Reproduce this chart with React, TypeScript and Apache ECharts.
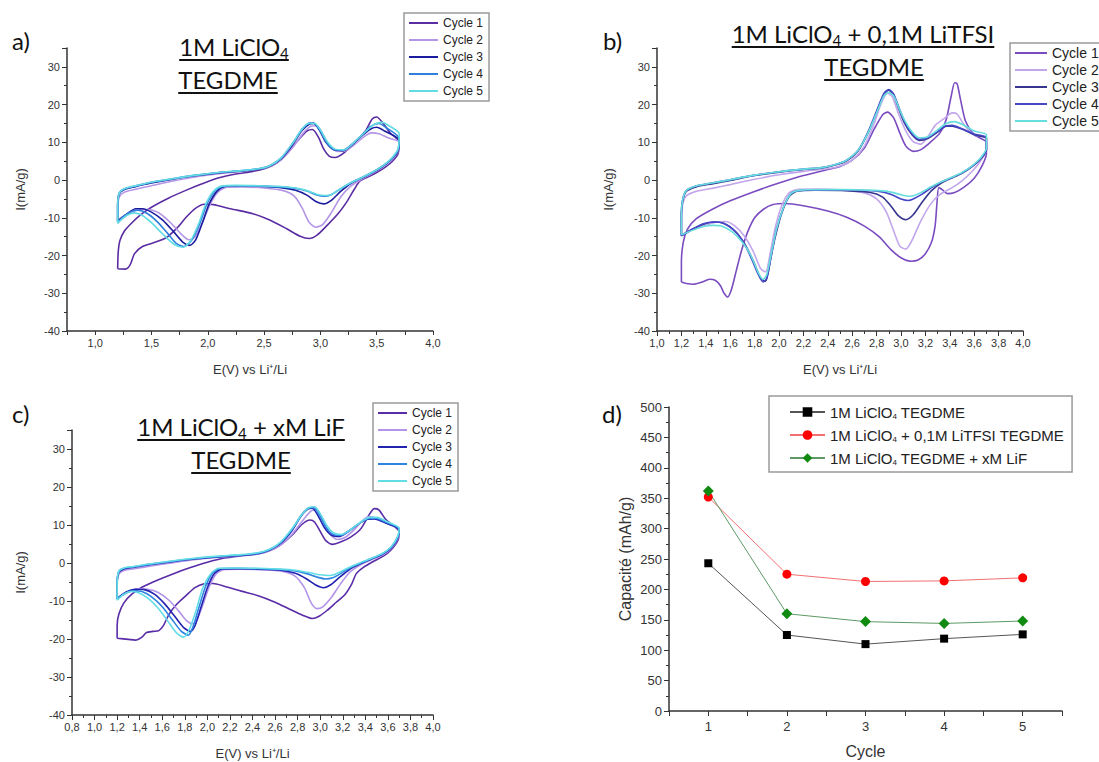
import React, { useEffect, useRef } from 'react';
import * as echarts from 'echarts';

// ---------- Panel a) 1M LiClO4 TEGDME : [E (V), I (mA/g)] loops ----------
const A_C1 = [
  [1.2,-23.5],[1.205,-19],[1.22,-16],[1.26,-13.5],[1.32,-11.5],[1.4,-9.3],[1.5,-7.2],[1.65,-4.8],[1.8,-2.8],[1.95,-1],[2.1,0.6],[2.25,1.6],[2.4,2.3],[2.5,3],[2.6,4.3],[2.7,7],[2.8,10.5],[2.88,13],[2.93,13.4],[2.98,11.5],[3.03,8.2],[3.08,6.3],[3.13,6.0],[3.2,7],[3.3,9.8],[3.4,13],[3.46,16.2],[3.5,16.7],[3.55,15.3],[3.62,12.5],[3.7,10],
  [3.69,7],[3.64,5],[3.58,3.5],[3.5,2],[3.42,0.8],[3.35,-0.3],[3.3,-2.5],[3.24,-5.5],[3.16,-8.8],[3.06,-12],[2.97,-14.6],[2.9,-15.5],[2.82,-14.9],[2.7,-12.9],[2.55,-10.6],[2.4,-8.9],[2.2,-7.6],[2.05,-6.5],[1.97,-6.4],[1.89,-7.5],[1.81,-9.8],[1.73,-12.6],[1.63,-15.3],[1.52,-16.6],[1.42,-17.6],[1.35,-19.5],[1.31,-22.5],[1.27,-23.6],[1.2,-23.5]
];
const A_C2 = [
  [1.2,-11],[1.2,-7.5],[1.215,-4.5],[1.26,-3.2],[1.35,-2.5],[1.5,-1.5],[1.7,-0.2],[1.9,0.9],[2.1,1.7],[2.3,2.3],[2.45,2.9],[2.55,3.6],[2.65,5.3],[2.75,8.5],[2.85,12.5],[2.92,14.3],[2.97,14.4],[3.02,12.3],[3.08,9.2],[3.15,7.6],[3.22,7.7],[3.3,9.3],[3.38,11.3],[3.45,12.5],[3.52,12.3],[3.6,11.2],[3.7,10],
  [3.69,7.5],[3.63,5.3],[3.56,3.6],[3.47,1.9],[3.37,0.3],[3.27,-1.6],[3.18,-4.5],[3.1,-8.5],[3.02,-11.8],[2.96,-12.5],[2.9,-11.2],[2.84,-7.5],[2.77,-4.3],[2.67,-2.8],[2.5,-2.1],[2.3,-1.8],[2.17,-1.9],[2.09,-3.2],[2.02,-6.5],[1.95,-11.5],[1.88,-15.3],[1.83,-15.8],[1.76,-14.2],[1.67,-11.3],[1.57,-8.8],[1.47,-7.8],[1.39,-7.8],[1.3,-9],[1.2,-11]
];
const A_C3 = [
  [1.2,-11],[1.2,-6.5],[1.215,-3.6],[1.26,-2.5],[1.35,-1.8],[1.5,-0.8],[1.7,0.3],[1.9,1.2],[2.1,1.9],[2.3,2.4],[2.45,2.9],[2.55,3.7],[2.65,5.6],[2.75,9.3],[2.84,13.3],[2.9,14.8],[2.94,15],[2.99,13.3],[3.05,10],[3.12,8],[3.2,7.8],[3.28,9.3],[3.37,11.8],[3.45,13.6],[3.5,14],[3.57,13],[3.7,10.5],
  [3.69,7.8],[3.63,5.5],[3.56,3.8],[3.47,2.1],[3.37,0.6],[3.27,-0.9],[3.18,-3],[3.1,-5.3],[3.03,-6.3],[2.96,-5.7],[2.88,-4],[2.78,-2.7],[2.65,-2],[2.45,-1.6],[2.25,-1.5],[2.15,-1.7],[2.08,-3],[2.01,-6.5],[1.95,-11.5],[1.89,-16],[1.84,-17.3],[1.78,-16.5],[1.7,-13.8],[1.6,-10.6],[1.5,-8.5],[1.42,-7.6],[1.36,-7.6],[1.29,-8.8],[1.2,-10.8]
];
const A_C4 = [
  [1.2,-11.2],[1.2,-6.5],[1.215,-3.3],[1.26,-2.3],[1.35,-1.6],[1.5,-0.6],[1.7,0.4],[1.9,1.3],[2.1,2],[2.3,2.5],[2.45,3],[2.55,3.8],[2.65,5.8],[2.75,9.6],[2.84,13.6],[2.9,15.1],[2.94,15.2],[2.99,13.5],[3.05,10.2],[3.12,8.1],[3.2,7.9],[3.28,9.5],[3.37,12],[3.45,14.3],[3.52,15],[3.58,14],[3.7,11],
  [3.69,8],[3.63,5.6],[3.56,3.9],[3.47,2.2],[3.37,0.7],[3.27,-0.7],[3.18,-2.3],[3.1,-3.8],[3.04,-4.3],[2.96,-3.9],[2.88,-2.9],[2.78,-2.2],[2.65,-1.8],[2.45,-1.6],[2.25,-1.5],[2.13,-1.7],[2.06,-3],[1.99,-6.5],[1.93,-11.5],[1.86,-15.8],[1.79,-17.6],[1.72,-16.8],[1.64,-14],[1.55,-11],[1.46,-8.8],[1.38,-8],[1.32,-8.3],[1.26,-9.5],[1.2,-11.2]
];
const A_C5 = [
  [1.2,-11.5],[1.2,-7],[1.215,-3.4],[1.26,-2.3],[1.35,-1.6],[1.5,-0.6],[1.7,0.4],[1.9,1.3],[2.1,2],[2.3,2.5],[2.45,3],[2.55,3.8],[2.65,5.8],[2.75,9.6],[2.84,13.6],[2.9,15],[2.95,15],[3.0,13.3],[3.06,10.2],[3.13,8.2],[3.21,8],[3.3,10],[3.4,12.8],[3.48,14.8],[3.55,15.3],[3.62,14.2],[3.7,12.3],
  [3.69,8.3],[3.63,5.7],[3.56,3.9],[3.47,2.2],[3.37,0.7],[3.27,-0.7],[3.18,-2.3],[3.1,-3.8],[3.05,-4.1],[2.97,-3.8],[2.88,-2.8],[2.78,-2.1],[2.65,-1.7],[2.45,-1.5],[2.25,-1.4],[2.12,-1.6],[2.05,-3],[1.98,-6.5],[1.92,-11.5],[1.85,-16],[1.78,-17.8],[1.7,-17],[1.6,-14.3],[1.5,-11.3],[1.42,-9.4],[1.35,-8.7],[1.29,-9.2],[1.24,-10.3],[1.2,-11.5]
];

// ---------- Panel b) 1M LiClO4 + 0,1M LiTFSI TEGDME ----------
const B_C1 = [
  [1.2,-27],[1.2,-22],[1.215,-16.5],[1.25,-13],[1.32,-10.3],[1.45,-7.8],[1.6,-5.5],[1.8,-3],[2.0,-0.8],[2.2,1.2],[2.4,2.8],[2.5,3.6],[2.6,5.3],[2.7,8.5],[2.78,13.5],[2.85,17.3],[2.89,18],[2.94,16.5],[2.99,12.5],[3.04,9],[3.1,7.6],[3.16,8],[3.24,10],[3.32,12.5],[3.37,16],[3.41,22],[3.44,25.8],[3.46,25.5],[3.49,21],[3.53,15.5],[3.6,12],[3.7,10],
  [3.7,7],[3.66,3.5],[3.6,0.5],[3.52,-1.8],[3.44,-3.3],[3.38,-3.6],[3.34,-2.6],[3.31,-2],[3.295,-6],[3.28,-12],[3.25,-16.5],[3.2,-19.5],[3.14,-21.2],[3.08,-21.5],[3.0,-20.6],[2.92,-18.5],[2.82,-15],[2.7,-12.2],[2.55,-9.8],[2.4,-8.2],[2.2,-6.8],[2.05,-6.2],[1.95,-6.5],[1.87,-7.8],[1.8,-10],[1.74,-14],[1.69,-19],[1.65,-24],[1.61,-29],[1.58,-31],[1.55,-30],[1.52,-28],[1.48,-26.6],[1.43,-26.3],[1.37,-27],[1.3,-27.6],[1.24,-27.4],[1.2,-27]
];
const B_C2 = [
  [1.2,-14.5],[1.2,-10],[1.21,-6.5],[1.24,-4.2],[1.32,-3],[1.45,-2.2],[1.6,-1.2],[1.8,0.2],[2.0,1.4],[2.2,2.3],[2.4,3],[2.5,3.7],[2.6,5.3],[2.7,9],[2.78,15],[2.84,20.5],[2.89,23],[2.93,22],[2.98,17.5],[3.04,13],[3.1,10.2],[3.16,9.5],[3.22,11.5],[3.28,14.5],[3.35,16.2],[3.42,17.8],[3.46,17.5],[3.52,14.5],[3.6,12],[3.7,11],
  [3.7,8],[3.65,5],[3.58,2.2],[3.5,-0.2],[3.42,-2],[3.32,-3.8],[3.24,-6.5],[3.16,-11],[3.09,-16],[3.04,-18.3],[2.99,-17.5],[2.94,-13.5],[2.88,-8.5],[2.8,-5],[2.7,-3.4],[2.5,-2.6],[2.3,-2.4],[2.15,-2.5],[2.08,-3.5],[2.02,-7],[1.97,-12.5],[1.93,-19],[1.89,-24.3],[1.85,-23.5],[1.79,-19],[1.72,-15],[1.64,-12.2],[1.56,-11],[1.48,-11.2],[1.4,-12],[1.3,-13],[1.2,-14.5]
];
const B_C3 = [
  [1.2,-14.7],[1.2,-9],[1.21,-5.5],[1.24,-3],[1.32,-1.8],[1.45,-1],[1.6,-0.1],[1.8,1.2],[2.0,2.1],[2.2,2.8],[2.35,3.2],[2.45,3.9],[2.55,5],[2.65,7.8],[2.73,12.5],[2.8,18],[2.86,22.8],[2.9,23.8],[2.94,22.5],[2.98,19],[3.03,15],[3.09,12],[3.15,10.5],[3.22,11],[3.3,12.7],[3.37,14.3],[3.42,14.3],[3.5,13.5],[3.6,12],[3.7,11],
  [3.7,8],[3.65,5.5],[3.58,3.5],[3.5,1.8],[3.42,0.6],[3.34,-0.6],[3.25,-2.8],[3.17,-6],[3.1,-9.2],[3.04,-10.5],[2.98,-9.5],[2.92,-7],[2.85,-4.5],[2.75,-3.3],[2.55,-2.8],[2.3,-2.7],[2.15,-2.9],[2.08,-4.5],[2.02,-9],[1.97,-15],[1.93,-21],[1.89,-26.8],[1.85,-26],[1.79,-21.5],[1.72,-17],[1.64,-13.5],[1.55,-11.5],[1.47,-11.1],[1.4,-11.5],[1.3,-12.8],[1.2,-14.7]
];
const B_C4 = [
  [1.2,-14.8],[1.2,-9],[1.21,-5.3],[1.24,-2.8],[1.32,-1.6],[1.45,-0.8],[1.6,0.1],[1.8,1.3],[2.0,2.2],[2.2,2.9],[2.35,3.3],[2.45,4],[2.55,5.2],[2.65,8],[2.73,12.8],[2.8,18.3],[2.86,23],[2.9,24],[2.94,22.8],[2.98,19.5],[3.03,15.5],[3.09,12.3],[3.15,10.8],[3.22,11.2],[3.3,12.8],[3.37,14.4],[3.42,14.5],[3.5,13.6],[3.6,12.2],[3.7,11.3],
  [3.7,8.2],[3.65,5.6],[3.58,3.6],[3.5,1.9],[3.42,0.7],[3.34,-0.4],[3.25,-2],[3.17,-3.8],[3.1,-5],[3.06,-5.4],[3.0,-5],[2.92,-3.8],[2.82,-3],[2.65,-2.7],[2.4,-2.6],[2.2,-2.7],[2.1,-3.5],[2.04,-7],[1.98,-13],[1.94,-19.5],[1.9,-26],[1.87,-27],[1.83,-25],[1.77,-20.5],[1.7,-16],[1.62,-13],[1.54,-11.4],[1.46,-11.1],[1.38,-11.6],[1.3,-12.9],[1.2,-14.8]
];
const B_C5 = [
  [1.2,-14.5],[1.2,-9],[1.21,-5.3],[1.24,-2.8],[1.32,-1.6],[1.45,-0.8],[1.6,0.1],[1.8,1.3],[2.0,2.2],[2.2,2.9],[2.35,3.3],[2.45,4],[2.55,5.2],[2.65,8],[2.73,12.5],[2.8,17.8],[2.86,22.3],[2.9,23.2],[2.94,22.3],[2.98,19.3],[3.03,15.8],[3.09,12.8],[3.15,11.2],[3.22,11.5],[3.3,13.3],[3.37,15],[3.44,15.5],[3.5,14.8],[3.6,13],[3.7,12],
  [3.7,8.5],[3.65,5.8],[3.58,3.7],[3.5,2],[3.42,0.8],[3.34,-0.3],[3.25,-1.7],[3.17,-3.2],[3.11,-4.1],[3.07,-4.3],[3.0,-3.9],[2.92,-3.2],[2.82,-2.8],[2.65,-2.6],[2.4,-2.5],[2.2,-2.6],[2.1,-3.5],[2.04,-7],[1.98,-13],[1.94,-19],[1.9,-25],[1.87,-26.3],[1.83,-24.5],[1.77,-20],[1.7,-16.5],[1.62,-13.8],[1.54,-12.3],[1.46,-12],[1.38,-12.3],[1.3,-13.2],[1.2,-14.5]
];

// ---------- Panel c) 1M LiClO4 + xM LiF TEGDME ----------
const C_C1 = [
  [1.2,-19.8],[1.2,-16.5],[1.215,-13.5],[1.26,-10.5],[1.33,-8.2],[1.42,-6.4],[1.55,-4.6],[1.7,-2.8],[1.85,-1.2],[2.0,0.2],[2.15,1.3],[2.3,1.9],[2.45,2.4],[2.55,3.2],[2.65,4.8],[2.75,7.3],[2.84,10.2],[2.91,11.3],[2.95,10.8],[3.0,8.3],[3.05,5.9],[3.11,4.9],[3.18,5.5],[3.27,6.8],[3.36,9],[3.43,12.5],[3.48,14.3],[3.52,14],[3.58,11.5],[3.65,9.8],[3.7,8.2],
  [3.69,6],[3.63,3.5],[3.56,1.8],[3.47,0.4],[3.38,-1.2],[3.32,-2.8],[3.28,-5.5],[3.22,-8.3],[3.14,-10.4],[3.06,-12.5],[2.99,-14],[2.93,-14.6],[2.85,-13.8],[2.74,-12.3],[2.6,-10.3],[2.45,-8.6],[2.3,-7.4],[2.15,-6.1],[2.05,-5.4],[1.97,-5.5],[1.89,-6.5],[1.81,-8.6],[1.73,-10.8],[1.66,-13.5],[1.61,-16.5],[1.57,-17.8],[1.52,-18],[1.46,-18.3],[1.42,-19.5],[1.36,-20.3],[1.3,-20.1],[1.2,-19.8]
];
const C_C2 = [
  [1.2,-9.5],[1.2,-6],[1.215,-3],[1.26,-2],[1.35,-1.5],[1.5,-0.8],[1.7,0.1],[1.9,0.9],[2.1,1.5],[2.3,1.9],[2.45,2.4],[2.55,3.2],[2.65,4.8],[2.75,7.5],[2.84,11],[2.92,13.7],[2.97,14],[3.02,11.5],[3.08,8],[3.15,6.2],[3.22,6.7],[3.3,8.7],[3.37,11],[3.43,12.2],[3.5,11.8],[3.6,10.3],[3.7,8.8],
  [3.69,6.5],[3.63,3.8],[3.55,2],[3.45,0.8],[3.35,-0.6],[3.26,-2.5],[3.18,-5.5],[3.1,-9],[3.02,-11.6],[2.97,-12],[2.92,-10.5],[2.86,-6.5],[2.78,-3.5],[2.67,-2.2],[2.5,-1.8],[2.3,-1.6],[2.15,-1.7],[2.08,-2.8],[2.02,-6],[1.96,-11],[1.91,-14.8],[1.87,-16],[1.82,-15.3],[1.75,-12.8],[1.66,-9.8],[1.56,-7.7],[1.47,-6.9],[1.39,-6.8],[1.3,-7.6],[1.2,-9.5]
];
const C_C3 = [
  [1.2,-9.5],[1.2,-5.5],[1.215,-2.5],[1.26,-1.6],[1.35,-1.1],[1.5,-0.4],[1.7,0.4],[1.9,1.1],[2.1,1.6],[2.3,2],[2.45,2.5],[2.55,3.4],[2.65,5.2],[2.75,8.5],[2.83,12.3],[2.89,14.2],[2.93,14.4],[2.98,12.5],[3.04,9.2],[3.1,7.3],[3.17,7],[3.25,8.3],[3.34,10.3],[3.42,11.5],[3.48,11.6],[3.58,10.5],[3.7,8.8],
  [3.69,6.8],[3.63,4],[3.55,2.3],[3.45,1],[3.35,-0.3],[3.26,-1.7],[3.17,-3.8],[3.09,-5.8],[3.03,-6.5],[2.96,-5.8],[2.88,-4.2],[2.78,-2.7],[2.65,-1.9],[2.45,-1.6],[2.25,-1.5],[2.13,-1.6],[2.06,-2.8],[2.0,-6.5],[1.94,-12],[1.89,-16.5],[1.85,-18],[1.79,-17],[1.71,-14],[1.62,-10.7],[1.53,-8.2],[1.44,-7],[1.36,-6.9],[1.28,-7.6],[1.2,-9.3]
];
const C_C4 = [
  [1.2,-9.3],[1.2,-5.3],[1.215,-2.2],[1.26,-1.4],[1.35,-1],[1.5,-0.3],[1.7,0.5],[1.9,1.2],[2.1,1.7],[2.3,2.1],[2.45,2.6],[2.55,3.5],[2.65,5.4],[2.75,8.8],[2.83,12.5],[2.89,14.4],[2.94,14.6],[2.99,12.8],[3.05,9.5],[3.11,7.6],[3.18,7.3],[3.26,8.6],[3.35,10.5],[3.43,11.7],[3.49,11.8],[3.58,10.8],[3.7,9],
  [3.69,7],[3.63,4.2],[3.55,2.4],[3.45,1.1],[3.35,-0.1],[3.26,-1.3],[3.18,-2.8],[3.11,-3.9],[3.05,-4.2],[2.97,-3.7],[2.88,-2.8],[2.78,-2.1],[2.65,-1.7],[2.45,-1.5],[2.25,-1.4],[2.11,-1.5],[2.04,-2.8],[1.98,-6.5],[1.92,-12.2],[1.87,-17],[1.83,-19],[1.77,-18],[1.69,-15],[1.6,-11.5],[1.5,-8.8],[1.42,-7.5],[1.35,-7.3],[1.28,-7.9],[1.2,-9.3]
];
const C_C5 = [
  [1.2,-9.8],[1.2,-5.5],[1.215,-2.2],[1.26,-1.3],[1.35,-0.9],[1.5,-0.2],[1.7,0.6],[1.9,1.3],[2.1,1.8],[2.3,2.2],[2.45,2.7],[2.55,3.6],[2.65,5.5],[2.75,9],[2.84,12.8],[2.9,14.6],[2.95,14.8],[3.0,13],[3.06,9.8],[3.12,7.9],[3.19,7.5],[3.27,8.8],[3.36,10.8],[3.44,12],[3.5,12],[3.6,10.8],[3.7,9.2],
  [3.69,7.2],[3.63,4.3],[3.55,2.5],[3.45,1.2],[3.35,0],[3.26,-1.1],[3.18,-2.3],[3.12,-3.1],[3.08,-3.3],[3.0,-3.1],[2.9,-2.5],[2.78,-1.9],[2.65,-1.6],[2.45,-1.4],[2.25,-1.3],[2.1,-1.4],[2.03,-2.8],[1.96,-6.5],[1.9,-12.5],[1.84,-17.5],[1.79,-19.5],[1.73,-18.5],[1.65,-15.3],[1.56,-11.8],[1.47,-9.2],[1.39,-7.8],[1.32,-7.5],[1.26,-8.2],[1.2,-9.8]
];

const CYCLE_NAMES = ['Cycle 1', 'Cycle 2', 'Cycle 3', 'Cycle 4', 'Cycle 5'];
const COLORS_A = ['#5b2da3', '#b596e6', '#1c1c9e', '#2f80de', '#62dbe3'];
const COLORS_B = ['#7a4cc0', '#c2a6ec', '#36368f', '#4646c8', '#66dede'];
const COLORS_C = ['#5a2ca8', '#b394e8', '#2323b0', '#2e84e0', '#62dde6'];

// ---------- Panel d) capacity vs cycle ----------
const D_CYCLES = [1, 2, 3, 4, 5];
const D_LICLO4 = [243, 125, 110, 119, 126];
const D_LITFSI = [352, 225, 213, 214, 219];
const D_LIF = [362, 160, 147, 144, 148];
const D_LABELS = [
  '1M LiClO{sub|4} TEGDME',
  '1M LiClO{sub|4} + 0,1M LiTFSI TEGDME',
  '1M LiClO{sub|4} TEGDME + xM LiF',
];

const AXIS_FONT = 'Liberation Sans';
const TITLE_FONT = 'Lato';

function commaFmt(v: number) {
  return v.toFixed(1).replace('.', ',');
}

export default function App() {
  const ref = useRef<HTMLDivElement>(null);

  useEffect(() => {
    if (!ref.current) return;
    const chart = echarts.init(ref.current, null, { renderer: 'svg' });

    const cv = document.createElement('canvas').getContext('2d') as CanvasRenderingContext2D;
    const measure = (t: string, size: number) => {
      cv.font = `${size}px ${TITLE_FONT}`;
      return cv.measureText(t).width;
    };

    const graphics: any[] = [];
    const titleLine = (parts: { t: string; sub?: boolean }[], cx: number, y: number) => {
      const widths = parts.map((p) => measure(p.t, p.sub ? 15 : 24));
      const W = widths.reduce((a, b) => a + b, 0);
      let x = cx - W / 2;
      parts.forEach((p, i) => {
        graphics.push({
          type: 'text',
          x,
          y: p.sub ? y + 7 : y,
          silent: true,
          style: {
            text: p.t,
            fill: '#111',
            font: `${p.sub ? 15 : 24}px ${TITLE_FONT}`,
            textAlign: 'left',
            textVerticalAlign: 'middle',
          },
        });
        x += widths[i];
      });
      graphics.push({
        type: 'line',
        silent: true,
        shape: { x1: cx - W / 2, y1: y + 14, x2: cx + W / 2, y2: y + 14 },
        style: { stroke: '#111', lineWidth: 2 },
      });
    };
    titleLine([{ t: '1M LiClO' }, { t: '4', sub: true }], 234, 46);
    titleLine([{ t: 'TEGDME' }], 228, 79);
    titleLine([{ t: '1M LiClO' }, { t: '4', sub: true }, { t: ' + 0,1M LiTFSI' }], 863, 33);
    titleLine([{ t: 'TEGDME' }], 874, 66);
    titleLine([{ t: '1M LiClO' }, { t: '4', sub: true }, { t: ' + xM LiF' }], 241, 426);
    titleLine([{ t: 'TEGDME' }], 241, 459);

    [['a)', 12, 40], ['b)', 603, 40], ['c)', 12, 413], ['d)', 602, 413]].forEach(([t, x, y]) => {
      graphics.push({
        type: 'text',
        x,
        y,
        silent: true,
        style: { text: t, fill: '#111', font: `24px ${TITLE_FONT}`, textAlign: 'left', textVerticalAlign: 'middle' },
      });
    });

    const grids = [
      { left: 67, top: 48, width: 366, height: 283 },
      { left: 657, top: 48, width: 366, height: 283 },
      { left: 72, top: 430, width: 361, height: 285 },
      { left: 669, top: 407, width: 393, height: 304 },
    ];

    const axisBase = (fontSize: number) => ({
      axisLine: { onZero: false, lineStyle: { color: '#333', width: 1.5 } },
      axisTick: { length: 5, lineStyle: { color: '#333', width: 1 } },
      minorTick: { show: true, splitNumber: 2, length: 3, lineStyle: { color: '#333', width: 1 } },
      splitLine: { show: false },
      minorSplitLine: { show: false },
      axisLabel: { color: '#333', fontSize, fontFamily: AXIS_FONT },
      nameTextStyle: { color: '#333', fontSize: fontSize + 2, fontFamily: AXIS_FONT },
    });

    const cvX = (i: number, min: number, interval: number, everyHalf: boolean) => ({
      type: 'value',
      gridIndex: i,
      min,
      max: 4,
      interval,
      ...axisBase(11),
      minorTick: everyHalf
        ? { show: false }
        : { show: true, splitNumber: 2, length: 3, lineStyle: { color: '#333', width: 1 } },
      axisTick: { length: everyHalf ? 4 : 5, lineStyle: { color: '#333', width: 1 } },
      axisLabel: {
        color: '#333',
        fontSize: 11,
        fontFamily: AXIS_FONT,
        margin: 6,
        formatter: (v: number) => {
          if (everyHalf && Math.abs(v * 2 - Math.round(v * 2)) > 1e-6) return '';
          return commaFmt(v);
        },
      },
      name: 'E(V) vs Li\u207A/Li',
      nameLocation: 'middle',
      nameGap: 32,
      nameTextStyle: { color: '#333', fontSize: 13, fontFamily: AXIS_FONT },
    });

    const cvY = (i: number, gap: number) => ({
      type: 'value',
      gridIndex: i,
      min: -40,
      max: 35,
      interval: 10,
      ...axisBase(11),
      axisLabel: {
        color: '#333',
        fontSize: 11,
        fontFamily: AXIS_FONT,
        margin: 7,
        formatter: (v: number) => (Math.abs(v % 10) < 1e-6 ? String(v) : ''),
      },
      name: 'I(mA/g)',
      nameLocation: 'middle',
      nameGap: gap,
      nameTextStyle: { color: '#333', fontSize: 13, fontFamily: AXIS_FONT },
    });

    const xAxis: any[] = [
      cvX(0, 0.75, 0.25, true),
      cvX(1, 1.0, 0.2, false),
      cvX(2, 0.8, 0.2, false),
      {
        type: 'value',
        gridIndex: 3,
        min: 0.5,
        max: 5.5,
        interval: 0.5,
        ...axisBase(13),
        minorTick: { show: false },
        axisLabel: {
          color: '#333',
          fontSize: 13,
          fontFamily: AXIS_FONT,
          margin: 9,
          formatter: (v: number) => (Math.abs(v - Math.round(v)) < 1e-6 ? String(Math.round(v)) : ''),
        },
        name: 'Cycle',
        nameLocation: 'middle',
        nameGap: 32,
        nameTextStyle: { color: '#333', fontSize: 16, fontFamily: AXIS_FONT },
      },
    ];
    const yAxis: any[] = [
      cvY(0, 40),
      cvY(1, 42),
      cvY(2, 45),
      {
        type: 'value',
        gridIndex: 3,
        min: 0,
        max: 500,
        interval: 50,
        ...axisBase(13),
        axisLabel: { color: '#333', fontSize: 13, fontFamily: AXIS_FONT, margin: 7 },
        name: 'Capacité (mAh/g)',
        nameLocation: 'middle',
        nameGap: 36,
        nameTextStyle: { color: '#333', fontSize: 16, fontFamily: AXIS_FONT },
      },
    ];

    const series: any[] = [];
    const addCV = (prefix: string, idx: number, data: number[][][], colors: string[]) => {
      data.forEach((d, k) => {
        series.push({
          type: 'line',
          name: `${prefix}:${CYCLE_NAMES[k]}`,
          xAxisIndex: idx,
          yAxisIndex: idx,
          data: d,
          symbol: 'none',
          smooth: 0.25,
          lineStyle: { color: colors[k], width: 1.6 },
          itemStyle: { color: colors[k] },
          z: 2 + k,
        });
      });
    };
    addCV('a', 0, [A_C1, A_C2, A_C3, A_C4, A_C5], COLORS_A);
    addCV('b', 1, [B_C1, B_C2, B_C3, B_C4, B_C5], COLORS_B);
    addCV('c', 2, [C_C1, C_C2, C_C3, C_C4, C_C5], COLORS_C);

    const dSeries = [
      { name: 'd:0', vals: D_LICLO4, symbol: 'rect', size: 8, color: '#000', line: '#555' },
      { name: 'd:1', vals: D_LITFSI, symbol: 'circle', size: 9, color: '#f00', line: '#f27070' },
      { name: 'd:2', vals: D_LIF, symbol: 'diamond', size: 11, color: '#118a11', line: '#5e9a66' },
    ];
    dSeries.forEach((s) => {
      series.push({
        type: 'line',
        name: s.name,
        xAxisIndex: 3,
        yAxisIndex: 3,
        data: D_CYCLES.map((c, i) => [c, s.vals[i]]),
        symbol: s.symbol,
        symbolSize: s.size,
        showSymbol: true,
        lineStyle: { color: s.line, width: 1 },
        itemStyle: { color: s.color },
        z: 3,
      });
    });

    const cvLegend = (prefix: string, left: number, top: number, fontSize: number, itemWidth: number, padR: number) => ({
      orient: 'vertical',
      left,
      top,
      data: CYCLE_NAMES.map((n) => ({ name: `${prefix}:${n}`, icon: 'rect' })),
      formatter: (n: string) => n.slice(2),
      itemWidth,
      itemHeight: 2,
      itemGap: 3,
      padding: [3, padR, 3, 5],
      borderColor: '#9a9a9a',
      borderWidth: 1.5,
      selectedMode: false,
      textStyle: { color: '#222', fontSize, fontFamily: AXIS_FONT, lineHeight: 14 },
    });

    const legend: any[] = [
      cvLegend('a', 404, 13, 12, 29, 6),
      cvLegend('b', 1010, 43, 14, 32, 10),
      cvLegend('c', 373, 403, 12, 29, 6),
      {
        orient: 'vertical',
        left: 769,
        top: 396,
        data: ['d:0', 'd:1', 'd:2'],
        formatter: (n: string) => D_LABELS[Number(n.slice(2))],
        itemWidth: 35,
        itemHeight: 12,
        itemGap: 7,
        padding: [8, 8, 6, 20],
        borderColor: '#9a9a9a',
        borderWidth: 1.5,
        selectedMode: false,
        textStyle: {
          color: '#222',
          fontSize: 15,
          fontFamily: AXIS_FONT,
          lineHeight: 16,
          rich: { sub: { fontSize: 8, lineHeight: 8, verticalAlign: 'bottom', fontFamily: AXIS_FONT, color: '#222' } },
        },
      },
    ];

    chart.setOption({
      animation: false,
      backgroundColor: '#fff',
      grid: grids,
      xAxis,
      yAxis,
      legend,
      series,
      graphic: { elements: graphics },
    });

    return () => chart.dispose();
  }, []);

  return <div ref={ref} style={{ position: 'fixed', left: 0, top: 0, width: 1099, height: 762 }} />;
}
